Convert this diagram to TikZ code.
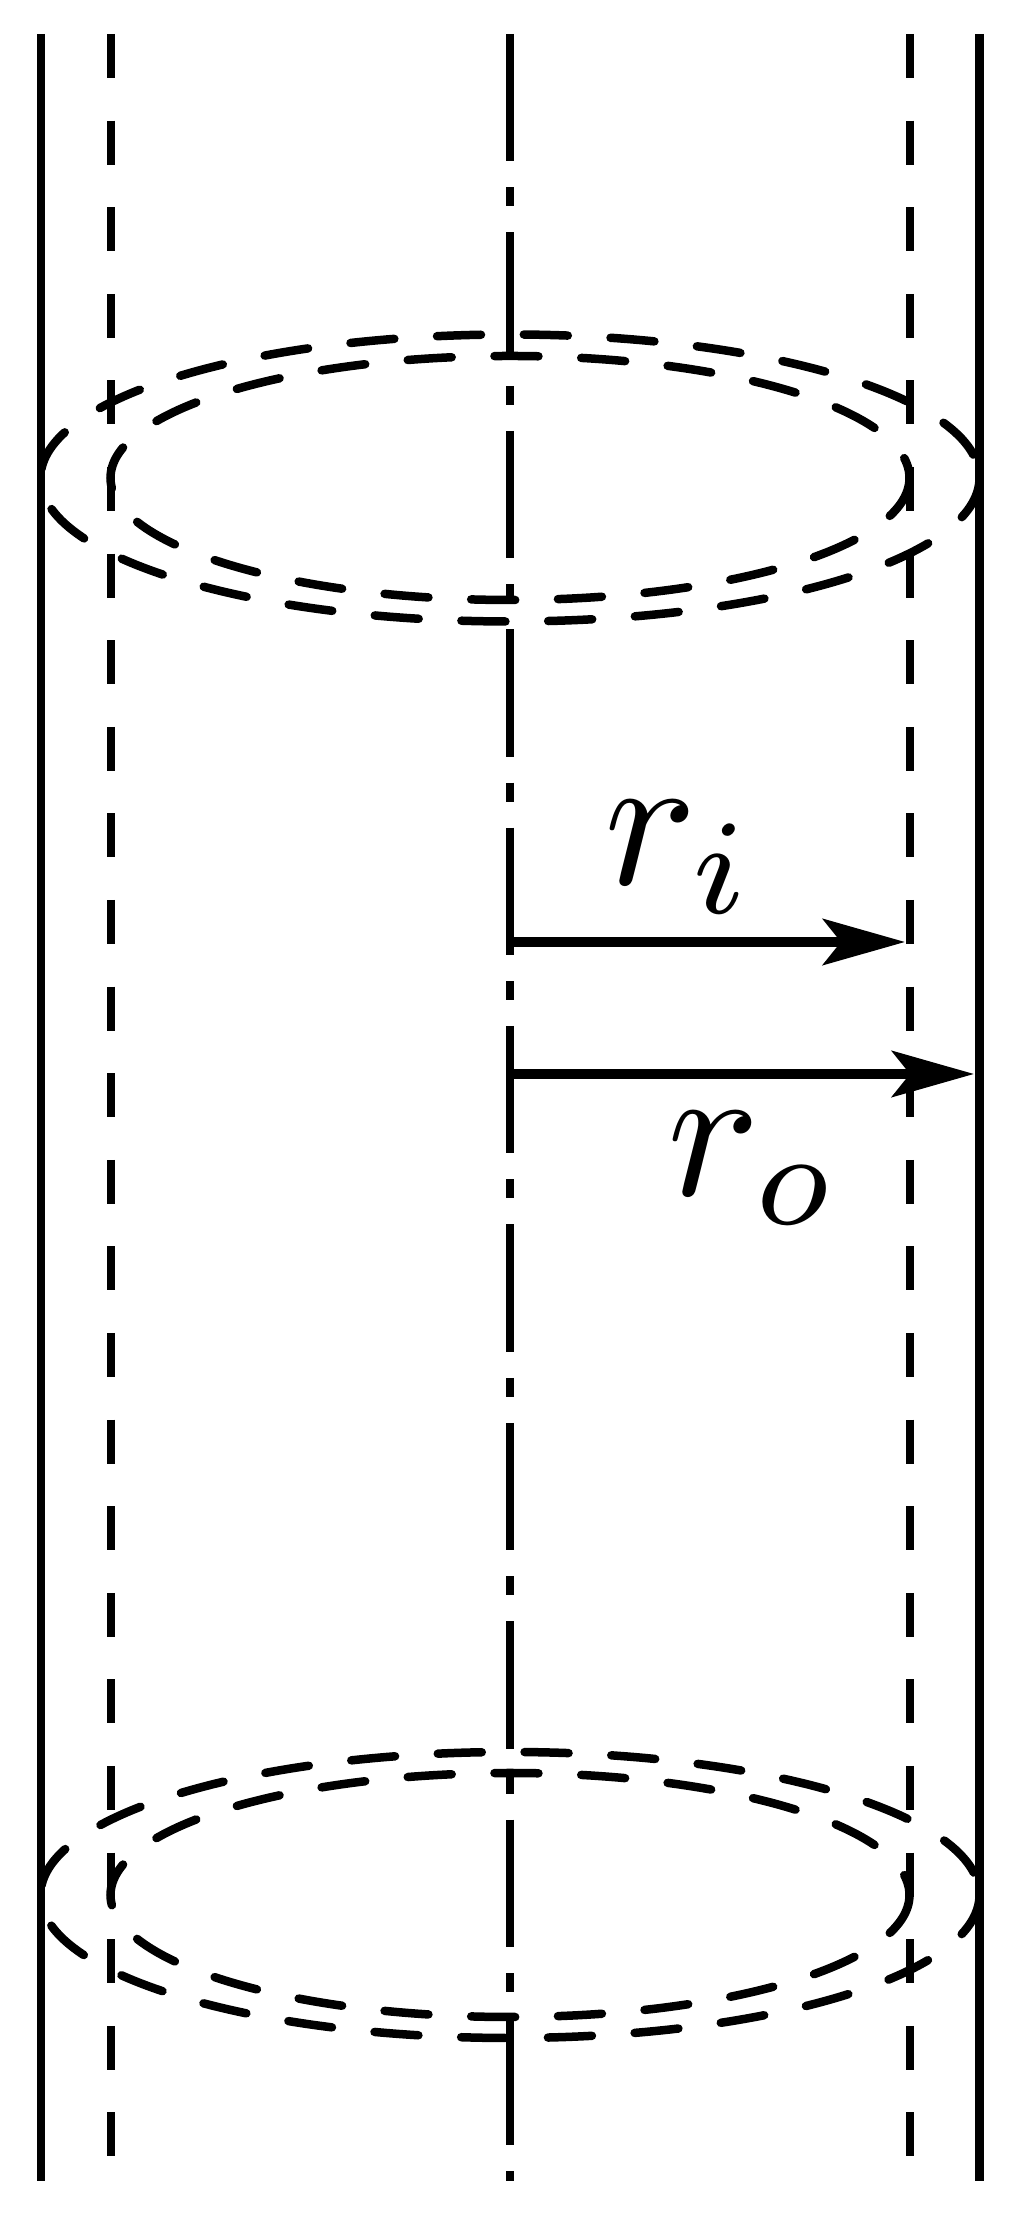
\documentclass[tikz,border=0pt]{standalone}
\usetikzlibrary{arrows.meta}
\tikzset{
  wall/.style={black,line width=0.083cm},
  liner/.style={black,line width=0.08cm,dash pattern=on 0.44cm off 0.426cm},
  axisline/.style={black,line width=0.08cm,dash pattern=on 1.275cm off 0.26cm on 0.19cm off 0.259cm},
  ring/.style={black,line width=0.085cm,line cap=round,dash pattern=on 0.44cm off 0.428cm},
  radius/.style={black,line width=0.1cm,-{Stealth[length=0.82cm,width=0.46cm,inset=0.18cm]}},
  radiuslabel/.style={inner sep=0pt,scale=5.5}
}
\begin{document}
\begin{tikzpicture}
  \useasboundingbox (0,0) rectangle (10.27,22.17);
  \draw [wall] (0.41,21.83) -- (0.41,0.36);
  \draw [wall] (9.795,21.83) -- (9.795,0.36);
  \draw [liner] (1.11,21.83) -- (1.11,0.36);
  \draw [liner] (9.1,21.83) -- (9.1,0.36);
  \draw [axisline] (5.1,21.83) -- (5.1,0.36);
  \draw [ring] (9.795,17.39) arc[start angle=0,end angle=-360,x radius=4.695,y radius=1.435];
  \draw [ring] (9.095,17.39) arc[start angle=0,end angle=-360,x radius=3.995,y radius=1.22];
  \draw [ring] (9.795,3.22) arc[start angle=0,end angle=-360,x radius=4.695,y radius=1.43];
  \draw [ring] (9.095,3.22) arc[start angle=0,end angle=-360,x radius=3.995,y radius=1.22];
  \coordinate (axisi) at (5.1,12.75);
  \coordinate (axiso) at (5.1,11.43);
  \coordinate (inneredge) at (9.05,12.75);
  \coordinate (outeredge) at (9.74,11.43);
  \draw [radius] (axisi) -- (inneredge);
  \draw [radius] (axiso) -- (outeredge);
  \node [radiuslabel] (ri) at (6.8,13.6) {$r_i$};
  \node [radiuslabel] (ro) at (7.54,10.49) {$r_o$};
\end{tikzpicture}
\end{document}
